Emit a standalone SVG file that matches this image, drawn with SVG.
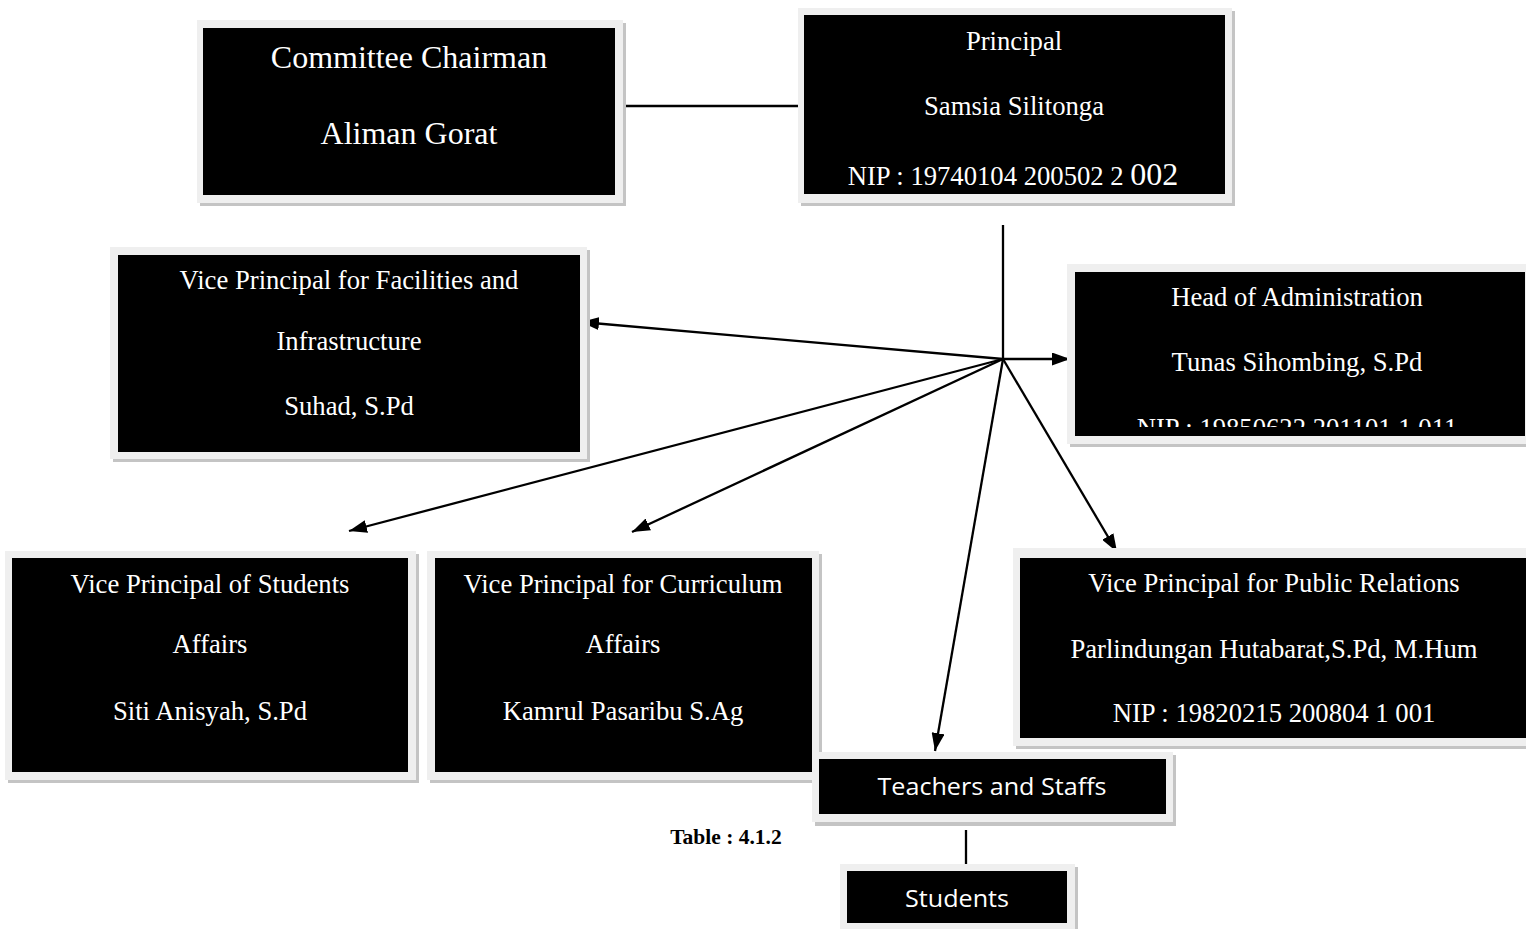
<svg xmlns="http://www.w3.org/2000/svg" width="1526" height="929" viewBox="0 0 1526 929">
<defs>
<style>
.sh{fill:#c4c4c4}
.fr{fill:#efefef}
.bk{fill:#000}
.t{font-family:"Liberation Serif","Times New Roman",serif;fill:#fff;text-anchor:middle;font-size:26.67px}
.s{font-family:"Open Sans","Liberation Sans",sans-serif;fill:#fff;text-anchor:middle;font-size:24px}
.c{stroke:#000;stroke-width:2.3;fill:none}
</style>
<marker id="ah2" viewBox="0 0 18 13" refX="18" refY="6.5" markerWidth="18" markerHeight="13" markerUnits="userSpaceOnUse" orient="auto">
<path d="M0,0 L18,6.5 L0,13 z" fill="#000"/>
</marker>
<clipPath id="admclip"><rect x="1075" y="272" width="451" height="155"/></clipPath>
</defs>
<rect width="1526" height="929" fill="#fff"/>

<g id="connectors">
<line class="c" x1="620" y1="106" x2="798" y2="106"/>
<line class="c" x1="1003" y1="225" x2="1003" y2="359"/>
<line class="c" x1="1003" y1="359" x2="1070" y2="359" marker-end="url(#ah2)"/>
<line class="c" x1="1003" y1="359" x2="581" y2="322" marker-end="url(#ah2)"/>
<line class="c" x1="1003" y1="359" x2="349" y2="531" marker-end="url(#ah2)"/>
<line class="c" x1="1003" y1="359" x2="632" y2="532" marker-end="url(#ah2)"/>
<line class="c" x1="1003" y1="359" x2="935" y2="751" marker-end="url(#ah2)"/>
<line class="c" x1="1003" y1="359" x2="1117" y2="552" marker-end="url(#ah2)"/>
<line class="c" x1="966" y1="830" x2="966" y2="864"/>
</g>

<g id="committee">
<rect class="sh" x="200" y="23" width="426" height="183"/>
<rect class="fr" x="197" y="20" width="426" height="183"/>
<rect class="bk" x="203" y="28" width="412" height="167"/>
<text class="t" x="409" y="68" style="font-size:32px">Committee Chairman</text>
<text class="t" x="409" y="144" style="font-size:32px">Aliman Gorat</text>
</g>

<g id="principal">
<rect class="sh" x="801" y="11" width="434" height="195"/>
<rect class="fr" x="798" y="8" width="434" height="195"/>
<rect class="bk" x="804" y="15" width="421" height="179"/>
<text class="t" x="1014" y="50">Principal</text>
<text class="t" x="1014" y="115">Samsia Silitonga</text>
<text class="t" x="1013" y="185">NIP : 19740104 200502 2 <tspan style="font-size:32px">002</tspan></text>
</g>

<g id="facilities">
<rect class="sh" x="113" y="250" width="477" height="212"/>
<rect class="fr" x="110" y="247" width="477" height="212"/>
<rect class="bk" x="118" y="255" width="462" height="197"/>
<text class="t" x="349" y="289">Vice Principal for Facilities and</text>
<text class="t" x="349" y="350">Infrastructure</text>
<text class="t" x="349" y="415">Suhad, S.Pd</text>
</g>

<g id="administration">
<rect class="sh" x="1070" y="267" width="460" height="180"/>
<rect class="fr" x="1067" y="264" width="460" height="180"/>
<rect class="bk" x="1075" y="272" width="450" height="164"/>
<text class="t" x="1297" y="306">Head of Administration</text>
<text class="t" x="1297" y="371">Tunas Sihombing, S.Pd</text>
<text class="t" x="1297" y="437" clip-path="url(#admclip)">NIP : 19850622 201101 1 011</text>
</g>

<g id="students-vp">
<rect class="sh" x="8" y="554" width="411" height="229"/>
<rect class="fr" x="5" y="551" width="411" height="229"/>
<rect class="bk" x="12" y="558" width="396" height="214"/>
<text class="t" x="210" y="593">Vice Principal of Students</text>
<text class="t" x="210" y="653">Affairs</text>
<text class="t" x="210" y="720">Siti Anisyah, S.Pd</text>
</g>

<g id="curriculum">
<rect class="sh" x="430" y="554" width="392" height="229"/>
<rect class="fr" x="427" y="551" width="392" height="229"/>
<rect class="bk" x="435" y="558" width="377" height="214"/>
<text class="t" x="623" y="593">Vice Principal for Curriculum</text>
<text class="t" x="623" y="653">Affairs</text>
<text class="t" x="623" y="720">Kamrul Pasaribu S.Ag</text>
</g>

<g id="public-relations">
<rect class="sh" x="1016" y="551" width="520" height="198"/>
<rect class="fr" x="1013" y="548" width="520" height="198"/>
<rect class="bk" x="1020" y="558" width="510" height="180"/>
<text class="t" x="1274" y="592">Vice Principal for Public Relations</text>
<text class="t" x="1274" y="658">Parlindungan Hutabarat,S.Pd, M.Hum</text>
<text class="t" x="1274" y="722">NIP : 19820215 200804 1 001</text>
</g>

<g id="teachers">
<rect class="sh" x="815" y="755" width="361" height="71"/>
<rect class="fr" x="812" y="752" width="361" height="70"/>
<rect class="bk" x="819" y="759" width="347" height="55"/>
<text class="s" x="992" y="795" textLength="229" lengthAdjust="spacingAndGlyphs">Teachers and Staffs</text>
</g>

<g id="students">
<rect class="sh" x="843" y="867" width="235" height="65"/>
<rect class="fr" x="840" y="864" width="235" height="65"/>
<rect class="bk" x="847" y="871" width="220" height="52"/>
<text class="s" x="957" y="907" textLength="104" lengthAdjust="spacingAndGlyphs">Students</text>
</g>

<text x="726" y="844" style="font-family:'Liberation Serif','Times New Roman',serif;font-weight:bold;font-size:21.5px;text-anchor:middle;fill:#000">Table : 4.1.2</text>
</svg>
